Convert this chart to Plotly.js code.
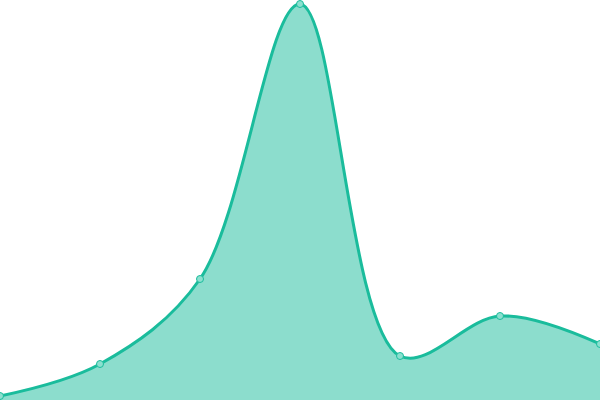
<!DOCTYPE html>
<html>
<head>
<meta charset="utf-8">
<script src="https://cdn.plot.ly/plotly-3.0.1.min.js"></script>
<style>
  html, body { margin: 0; padding: 0; background: #fff; }
  #chart { width: 600px; height: 400px; }
</style>
</head>
<body>
<div id="chart"></div>
<script>
// values (7 points, evenly spaced)
let xs = [0, 1, 2, 3, 4, 5, 6];
let values = [4, 36, 121, 396, 44, 84, 56];

let trace = {
    x: xs,
    y: values,
    mode: "lines+markers",
    fill: "tozeroy",
    fillcolor: "rgba(26,188,156,0.5)",
    line: {color: "#1abc9c", width: 3, shape: "spline", smoothing: 1},
    marker: {size: 7, color: "#8be0cf", line: {color: "#1abc9c", width: 1}},
    cliponaxis: false,
    hoverinfo: "none"
};

let layout = {
    width: 600,
    height: 400,
    margin: {l: 0, r: 0, t: 0, b: 0},
    paper_bgcolor: "#fff",
    plot_bgcolor: "#fff",
    showlegend: false,
    xaxis: {range: [0, 6], visible: false, fixedrange: true},
    yaxis: {range: [0, 400], visible: false, fixedrange: true}
};

Plotly.newPlot("chart", [trace], layout, {displayModeBar: false, staticPlot: true});
</script>
</body>
</html>
